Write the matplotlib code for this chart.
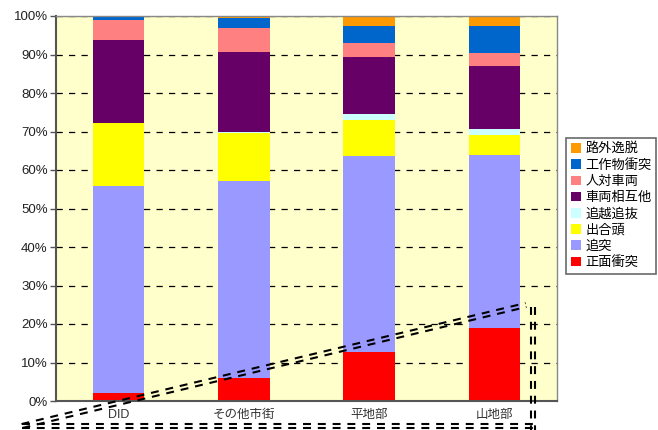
import matplotlib
matplotlib.use("Agg")
import matplotlib.pyplot as plt
from matplotlib.lines import Line2D
import numpy as np

plt.rcParams['font.family'] = ['Liberation Sans', 'Noto Sans CJK JP', 'DejaVu Sans']

categories = ['DID', 'その他市街', '平地部', '山地部']
series = ['正面衝突', '追突', '出合頭', '追越追抜', '車両相互他', '人対車両', '工作物衝突', '路外逸脱']
colors = ['#FF0000', '#9999FF', '#FFFF00', '#CCFFFF', '#660066', '#FF8080', '#0066CC', '#FF9900']

# share of each accident type (%), bottom to top
head_on = [2.1, 6.0, 12.7, 19.0]
rear_end = [53.7, 51.1, 51.0, 44.9]
crossing = [16.4, 12.5, 9.4, 5.2]
overtaking = [0.0, 0.3, 1.4, 1.5]
vehicle_other = [21.6, 20.7, 14.9, 16.4]
pedestrian = [5.2, 6.3, 3.6, 3.4]
structure = [1.0, 2.6, 4.4, 7.0]
off_road = [0.0, 0.5, 2.6, 2.6]
values = [head_on, rear_end, crossing, overtaking, vehicle_other, pedestrian, structure, off_road]

W, H = 658, 430
fig = plt.figure(figsize=(W / 100, H / 100), dpi=100)
ax = fig.add_axes([56 / W, 1 - 401 / H, (557 - 56) / W, (401 - 16) / H])
ax.set_facecolor('#FFFFCC')

x = np.arange(len(categories))
bottom = np.zeros(len(categories))
handles = []
for name, vals, c in zip(series, values, colors):
    b = ax.bar(x, vals, 0.41, bottom=bottom, color=c, label=name, zorder=2)
    handles.append(b)
    bottom += np.array(vals)

ax.set_xlim(-0.5, 3.5)
ax.set_ylim(0, 100)
ax.set_yticks(np.arange(0, 101, 10))
ax.set_yticklabels([f'{v}%' for v in range(0, 101, 10)], fontsize=9.5, color='#222222')
ax.set_xticks(x)
ax.set_xticklabels(categories, fontsize=9, color='#333333')
ax.tick_params(axis='x', length=0, pad=6)
ax.tick_params(axis='y', length=4, width=1, color='#555555', pad=2)
ax.yaxis.grid(True, color='black', linestyle=(0, (5, 5)), linewidth=0.9, zorder=1)
ax.set_axisbelow(True)
for s in ['left', 'bottom']:
    ax.spines[s].set_color('#555555')
    ax.spines[s].set_linewidth(1.5)
for s in ['top', 'right']:
    ax.spines[s].set_color('#888888')
    ax.spines[s].set_linewidth(1)

leg = fig.legend(handles[::-1], series[::-1], loc='upper left',
                 bbox_to_anchor=(566 / W, 1 - 138 / H), bbox_transform=fig.transFigure,
                 fontsize=9.5, frameon=True, fancybox=False, borderaxespad=0,
                 handlelength=0.75, handleheight=0.75, handletextpad=0.35,
                 labelspacing=0.28, borderpad=0.35)
leg.get_frame().set_edgecolor('#444444')
leg.get_frame().set_linewidth(1.2)


# double dashed outline drawn over the chart
def double_line(p0, p1, gap=2.0):
    (x0, y0), (x1, y1) = p0, p1
    d = np.array([x1 - x0, y1 - y0], dtype=float)
    n = np.array([-d[1], d[0]]) / np.hypot(*d)
    for s in (-1, 1):
        xs = [x0 + s * gap * n[0], x1 + s * gap * n[0]]
        ys = [y0 + s * gap * n[1], y1 + s * gap * n[1]]
        fig.add_artist(Line2D([v / W for v in xs], [1 - v / H for v in ys],
                              transform=fig.transFigure, color='black',
                              linewidth=1.5, linestyle=(0, (3.8, 3.3)), zorder=10))


double_line((22, 426), (526, 305))
double_line((533, 307), (533, 432))
double_line((22, 426), (535, 426))

fig.savefig('out.png', dpi=100)
